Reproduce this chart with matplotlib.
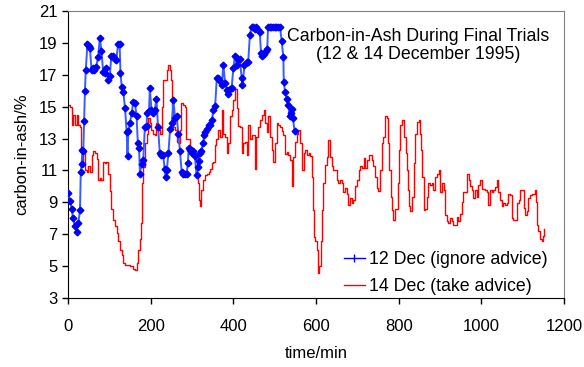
import numpy as np
import matplotlib
matplotlib.use('Agg')
import matplotlib.pyplot as plt
from matplotlib.lines import Line2D

plt.rcParams['font.family'] = ['Liberation Sans', 'DejaVu Sans']

# 12 Dec (ignore advice): time [min], carbon-in-ash [%]
dec12_t = [0, 5, 9, 12, 17, 21, 25, 29, 31, 33, 35, 37, 39, 41, 43, 47, 50, 53, 57, 60,
           64, 68, 73, 77, 81, 85, 89, 93, 97, 101, 105, 109, 113, 117, 121, 125, 127, 130, 134, 138,
           142, 144, 146, 150, 154, 158, 162, 166, 169, 172, 174, 178, 182, 186, 190, 192, 196, 198, 202, 206,
           210, 214, 218, 222, 226, 230, 234, 236, 239, 243, 247, 251, 255, 259, 263, 267, 271, 275, 279, 283,
           287, 290, 292, 295, 299, 303, 307, 311, 314, 316, 319, 323, 326, 330, 332, 336, 340, 344, 348, 352,
           356, 360, 364, 368, 372, 376, 380, 384, 388, 392, 396, 400, 404, 408, 412, 416, 420, 422, 427, 432,
           436, 440, 444, 448, 452, 456, 460, 464, 467, 470, 474, 478, 482, 484, 488, 492, 496, 500, 504, 508,
           513, 517, 521, 522, 525, 529, 533, 536, 539, 541, 544, 548]
dec12_c = [9.6, 9.1, 8.6, 8.0, 7.5, 7.15, 7.7, 8.5, 10.9, 11.4, 12.3, 12.2, 14.1, 16.0, 17.3, 18.9, 18.8, 18.7, 17.3, 17.4,
           17.3, 17.5, 18.1, 19.3, 18.5, 17.2, 17.1, 17.4, 16.7, 16.9, 18.2, 18.2, 18.0, 17.9, 18.9, 18.9, 17.1, 16.25, 15.9, 14.9,
           13.4, 11.9, 13.5, 14.0, 14.6, 15.3, 15.2, 14.4, 12.7, 12.4, 10.8, 11.4, 11.65, 13.7, 13.8, 14.6, 14.7, 16.15, 14.8, 14.6,
           14.8, 15.5, 13.7, 12.1, 12.0, 12.0, 11.1, 10.6, 11.0, 12.1, 13.6, 13.95, 15.4, 14.3, 14.4, 13.3, 12.2, 10.9, 10.8, 10.8,
           10.8, 11.45, 12.4, 12.3, 12.1, 12.2, 11.9, 10.7, 11.2, 11.6, 12.1, 12.2, 12.7, 13.2, 13.4, 13.6, 13.85, 13.85, 14.15, 14.8,
           15.05, 16.8, 16.8, 16.6, 16.35, 17.6, 16.5, 16.05, 15.8, 16.1, 16.2, 17.4, 18.2, 17.6, 18.0, 18.0, 16.8, 16.35, 17.6, 17.8,
           17.8, 19.5, 20.0, 20.0, 19.9, 20.0, 19.8, 19.7, 18.35, 18.2, 18.3, 18.5, 18.6, 20.0, 20.0, 20.0, 20.0, 20.0, 20.0, 20.0,
           20.0, 19.1, 18.1, 16.55, 15.95, 15.5, 15.1, 14.4, 14.6, 14.85, 14.3, 13.5]

# 14 Dec (take advice)
dec14_t = [0, 5, 9, 13, 17, 21, 25, 29, 31, 33, 37, 41, 45, 49, 53, 57, 61, 65, 69, 73,
           77, 81, 84, 89, 93, 98, 102, 104, 108, 110, 114, 118, 122, 126, 130, 134, 138, 146, 150, 158,
           162, 166, 170, 174, 177, 178, 182, 186, 190, 194, 198, 202, 206, 210, 214, 218, 223, 227, 231, 235,
           239, 243, 247, 249, 251, 255, 259, 263, 267, 271, 273, 279, 283, 286, 291, 295, 299, 303, 307, 311,
           314, 316, 318, 319, 323, 327, 331, 336, 340, 344, 348, 352, 356, 358, 364, 368, 372, 376, 380, 384,
           388, 392, 396, 400, 404, 408, 412, 416, 420, 424, 428, 432, 436, 440, 444, 448, 452, 456, 460, 465,
           469, 473, 477, 481, 485, 489, 493, 497, 501, 505, 509, 513, 517, 521, 525, 529, 533, 537, 541, 545,
           549, 553, 557, 561, 566, 570, 574, 578, 582, 586, 590, 592, 594, 598, 602, 604, 608, 611, 614, 616,
           618, 622, 626, 630, 634, 638, 642, 646, 650, 654, 658, 662, 666, 670, 674, 678, 682, 686, 690, 694,
           699, 703, 707, 711, 715, 719, 723, 727, 731, 735, 739, 743, 747, 751, 755, 759, 763, 766, 771, 773,
           777, 781, 785, 787, 791, 795, 799, 801, 803, 808, 812, 814, 818, 820, 822, 825, 828, 832, 836, 840,
           844, 848, 852, 854, 857, 861, 864, 868, 872, 876, 880, 884, 888, 893, 897, 901, 905, 909, 912, 916,
           920, 924, 928, 932, 936, 940, 944, 948, 952, 956, 960, 965, 969, 973, 977, 981, 985, 989, 993, 997,
           1001, 1005, 1009, 1013, 1017, 1021, 1025, 1029, 1033, 1037, 1041, 1045, 1049, 1053, 1057, 1061, 1065, 1069, 1073, 1077,
           1081, 1086, 1090, 1094, 1098, 1102, 1106, 1110, 1114, 1118, 1122, 1126, 1130, 1132, 1134, 1138, 1142, 1146, 1148, 1151]
dec14_c = [15.1, 15.0, 13.85, 14.5, 13.85, 14.5, 13.85, 13.75, 12.3, 11.3, 12.3, 11.0, 10.9, 11.3, 10.9, 12.0, 12.2, 12.1, 11.7, 10.4,
           10.5, 10.4, 11.55, 11.45, 11.55, 10.8, 9.7, 8.6, 8.5, 7.9, 7.5, 7.05, 6.6, 6.0, 5.7, 5.2, 5.1, 5.1, 5.0, 4.85,
           4.75, 5.2, 6.0, 6.7, 7.7, 10.2, 11.2, 12.7, 13.3, 14.3, 13.95, 13.55, 13.3, 13.2, 13.95, 13.55, 13.3, 15.0, 16.7, 16.7,
           17.3, 17.6, 17.3, 16.7, 15.0, 13.75, 13.55, 12.8, 12.7, 13.55, 15.2, 15.1, 15.0, 13.0, 13.0, 12.5, 12.3, 12.0, 11.65, 10.8,
           10.2, 9.7, 9.15, 8.75, 9.8, 10.4, 10.7, 10.8, 10.9, 11.1, 11.45, 11.55, 12.6, 13.0, 13.55, 13.1, 14.8, 13.3, 13.1, 12.1,
           12.7, 14.4, 14.8, 15.4, 16.1, 14.9, 13.8, 13.7, 12.1, 12.7, 12.8, 12.0, 13.85, 13.0, 13.2, 13.2, 11.1, 13.1, 13.75, 14.15,
           14.5, 14.8, 13.95, 13.4, 14.4, 13.1, 12.3, 11.55, 12.7, 13.95, 13.85, 13.75, 13.5, 13.2, 12.05, 12.15, 12.0, 11.65, 10.0, 11.85,
           12.8, 13.3, 13.55, 12.7, 11.0, 12.1, 12.3, 12.0, 12.1, 11.9, 10.6, 8.5, 6.85, 6.6, 6.0, 4.55, 5.0, 6.6, 8.5, 9.1,
           10.2, 11.35, 11.85, 12.9, 11.85, 11.25, 11.0, 11.0, 10.4, 10.2, 10.4, 10.2, 9.65, 9.9, 9.5, 8.85, 9.25, 8.95, 9.15, 10.0,
           10.4, 11.05, 11.25, 11.15, 11.75, 11.15, 11.65, 11.95, 11.95, 11.65, 11.25, 10.6, 9.9, 9.7, 11.05, 12.7, 13.1, 14.4, 14.3, 12.7,
           11.05, 9.35, 8.5, 7.9, 8.6, 8.6, 10.2, 12.3, 13.85, 14.15, 13.85, 13.1, 12.1, 11.05, 9.8, 8.75, 8.45, 9.35, 11.45, 13.3,
           14.05, 14.15, 13.3, 12.3, 10.6, 8.5, 8.6, 9.35, 10.2, 10.1, 10.2, 9.8, 10.6, 10.8, 11.05, 9.65, 10.2, 9.8, 8.2, 7.8,
           7.7, 8.0, 7.8, 7.6, 7.6, 8.1, 7.8, 8.3, 9.05, 9.65, 9.65, 10.8, 10.4, 10.0, 9.75, 9.25, 9.75, 9.35, 10.1, 10.4,
           9.85, 9.85, 9.75, 9.65, 8.85, 9.75, 9.65, 9.75, 9.95, 10.4, 9.65, 9.15, 8.75, 8.95, 8.85, 8.95, 9.55, 9.45, 8.0, 7.9,
           7.9, 8.95, 9.15, 9.75, 9.75, 8.65, 8.2, 8.45, 9.25, 9.45, 9.55, 9.55, 9.75, 9.05, 7.6, 7.2, 6.7, 6.6, 6.9, 7.3]

y_ticks = [3, 5, 7, 9, 11, 13, 15, 17, 19, 21]
x_ticks = [0, 200, 400, 600, 800, 1000, 1200]

fig = plt.figure(figsize=(5.84, 3.67), dpi=100)
ax = fig.add_axes([0.1164, 0.188, 0.8494, 0.782])

ax.plot(dec14_t, dec14_c, color='#ff0000', lw=1.0, drawstyle='steps-post', zorder=2)
ax.plot(dec12_t, dec12_c, color='#3a5cff', lw=1.4, marker='D', ms=3.4,
        mfc='#0000ff', mec='#0000ff', zorder=3)

ax.set_xlim(0, 1200)
ax.set_ylim(3, 21)
ax.set_xticks(x_ticks)
ax.set_yticks(y_ticks)
ax.tick_params(direction='out', length=4, width=1, labelsize=12, color='black')
ax.tick_params(axis='x', pad=11)
for s in ['left', 'bottom']:
    ax.spines[s].set_color('black')
for s in ['top', 'right']:
    ax.spines[s].set_color('#808080')

ax.set_xlabel('time/min', fontsize=12, labelpad=9)
ax.set_ylabel('carbon-in-ash/%', fontsize=12, labelpad=7)

ax.text(847, 18.85, 'Carbon-in-Ash During Final Trials\n(12 & 14 December 1995)',
        ha='center', va='center', fontsize=12.8, linespacing=1.1)

handles = [Line2D([], [], color='#0000ff', lw=1, marker='|', ms=6),
           Line2D([], [], color='#ff0000', lw=1)]
ax.legend(handles, ['12 Dec (ignore advice)', '14 Dec (take advice)'],
          loc='lower right', bbox_to_anchor=(1.0, -0.045), frameon=False,
          fontsize=12.8, handlelength=1.2, handletextpad=0.25, labelspacing=0.55)

fig.savefig('out.png', dpi=100)
